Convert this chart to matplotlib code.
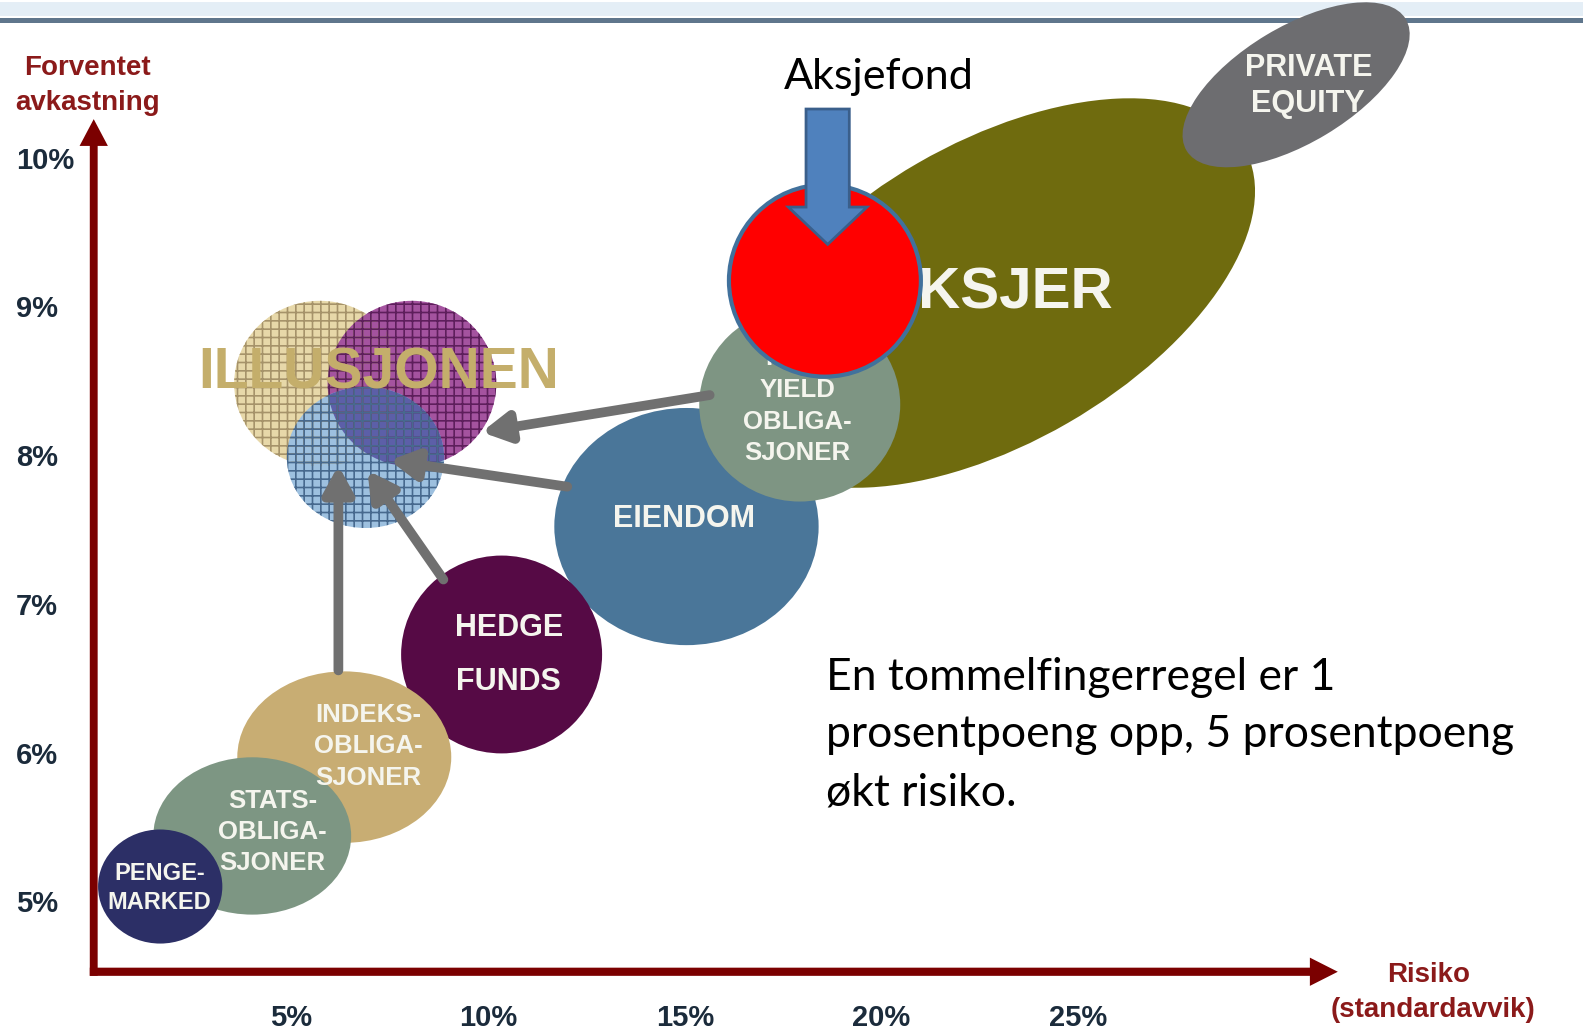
import matplotlib
matplotlib.use('Agg')
import matplotlib.pyplot as plt
import matplotlib.transforms as mtransforms
from matplotlib.patches import Ellipse, FancyArrow
from matplotlib.lines import Line2D

# asset classes: risk (standard deviation, %) and expected return (%)
assets = ['Aksjer', 'Private equity', 'Eiendom', 'High yield', 'Hedge funds',
          'Indeksobligasjoner', 'Statsobligasjoner', 'Pengemarked']
risk = [22.83, 30.54, 15.04, 17.92, 10.34, 6.34, 4.00, 1.66]
ret = [9.09, 10.49, 7.52, 8.34, 6.66, 5.97, 5.44, 5.10]
spread_w = [14.75, 6.5, 6.72, 5.11, 5.11, 5.44, 5.03, 3.16]
spread_h = [7.63, 2.95, 6.03, 4.93, 5.03, 4.36, 4.00, 2.90]
tilt = [30, 31, 0, 0, 0, 0, 0, 0]

label_lines = [['AKSJER'], ['PRIVATE', 'EQUITY'], ['EIENDOM'],
               ['HIGH', 'YIELD', 'OBLIGA-', 'SJONER'], ['HEDGE', 'FUNDS'],
               ['INDEKS-', 'OBLIGA-', 'SJONER'], ['STATS-', 'OBLIGA-', 'SJONER'],
               ['PENGE-', 'MARKED']]
label_x = [22.87, 30.85, 14.99, 17.86, 10.52, 6.96, 4.52, 1.64]
label_y = [9.105, 10.625, 7.592, 8.671, 6.859, 6.275, 5.698, 5.210]
label_step = [0, 0.244, 0, 0.213, 0.367, 0.213, 0.21, 0.197]

# the "illusion" circles
illu_x = [5.72, 8.06, 6.88]
illu_y = [8.481, 8.481, 7.985]
illu_w = [4.36, 4.29, 4.00]
illu_h = [4.21, 4.21, 3.59]

# arrows from asset classes into the illusion
arrow_from = [(15.63, 8.404), (12.01, 7.788), (8.86, 7.164), (6.19, 6.553)]
arrow_to = [(9.83, 8.155), (7.49, 7.965), (6.93, 7.897), (6.19, 7.931)]

# the equity fund
fund_risk, fund_ret, fund_d = 18.56, 9.173, 4.88

yticks = [10, 9, 8, 7, 6, 5]
xticks = [5, 10, 15, 20, 25]

note = ['En tommelfingerregel er 1',
        'prosentpoeng opp, 5 prosentpoeng',
        'økt risiko.']

colors = ['#6f6b0e', '#6d6d70', '#4a7699', '#7e9583', '#560a45',
          '#c8ad73', '#7d9683', '#2c2f66']
label_size = [42, 22, 22, 18.5, 22, 18.5, 18.5, 17]
illu_colors = ['#e7d8a9', '#a4539f', '#9dc0df']
illu_grid = ['#a6936a', '#5e1f5c', '#47698e']
DARKRED = '#7b0000'
DY = -0.02  # nudge text down to sit like the original


def bubble(ax, x, y, w, h, angle=0, **kw):
    # w, h in risk-% units, so the y scale does not squash the shape
    p0, p1 = ax.transData.transform([(0, 0), (1, 0)])
    unit = p1[0] - p0[0]
    cx, cy = ax.transData.transform((x, y))
    tr = mtransforms.Affine2D().scale(unit).translate(cx, cy)
    e = Ellipse((0, 0), w, h, angle=angle, transform=tr, **kw)
    ax.add_patch(e)
    return e


fig = plt.figure(figsize=(15.83, 10.32), dpi=100)
ax = fig.add_axes([0, 0, 1, 1])
ax.set_xlim(-2.413, 37.834)
ax.set_ylim(4.122, 11.060)
ax.axis('off')

# header rule
fig.add_artist(Line2D([0, 1], [0.9915, 0.9915], transform=fig.transFigure,
                      color='#e4eef6', lw=10, zorder=-2))
fig.add_artist(Line2D([0, 1], [0.9805, 0.9805], transform=fig.transFigure,
                      color='#5f768c', lw=3.6, zorder=-1))

for i in range(len(assets)):
    bubble(ax, risk[i], ret[i], spread_w[i], spread_h[i], tilt[i],
           facecolor=colors[i], lw=0, zorder=2 + i)

for i in range(len(assets)):
    for j, line in enumerate(label_lines[i]):
        ax.text(label_x[i], label_y[i] - j * label_step[i] + DY, line,
                ha='center', va='center', color='#f5f5ee', weight='bold',
                family='Liberation Sans', fontsize=label_size[i], zorder=12)

# illusion circles, blue on top, with the purple/blue overlap darkened
ill = []
for i in range(3):
    ill.append(bubble(ax, illu_x[i], illu_y[i], illu_w[i], illu_h[i],
                      facecolor=illu_colors[i], lw=0, zorder=13 + i * 0.1))
ov = bubble(ax, illu_x[1], illu_y[1], illu_w[1], illu_h[1],
            facecolor='#5c5fa8', lw=0, zorder=13.3)
ov.set_clip_path(ill[2])
plt.rcParams['hatch.linewidth'] = 1.2
for i in range(3):
    bubble(ax, illu_x[i], illu_y[i], illu_w[i], illu_h[i], hatch='++',
           facecolor='none', edgecolor=illu_grid[i], lw=0, zorder=13.4 + i * 0.1)

ax.text(7.21, 8.569 + DY, 'ILLUSJONEN', ha='center', va='center', color='#c4ae6b',
        weight='bold', family='Liberation Sans', fontsize=41, zorder=14)

for (x0, y0), (x1, y1) in zip(arrow_from, arrow_to):
    ax.annotate('', xy=(x1, y1), xytext=(x0, y0), zorder=15,
                arrowprops=dict(arrowstyle='-|>,head_length=1.0,head_width=0.55',
                                mutation_scale=16, lw=7, color='#707070',
                                shrinkA=0, shrinkB=0))

# the fund and its pointer
bubble(ax, fund_risk, fund_ret, fund_d, fund_d, facecolor='#ff0000',
       edgecolor='#41719c', lw=3, zorder=16)
ax.add_patch(FancyArrow(18.63, 10.327, 0, 9.417 - 10.327, width=1.10,
                        head_width=2.0, head_length=0.251,
                        length_includes_head=True, facecolor='#4f81bd',
                        edgecolor='#3a5f8b', lw=2, zorder=17))
ax.text(19.92, 10.564 + DY, 'Aksjefond', ha='center', va='center', family='Lato',
        fontsize=31, color='black', zorder=18)

# axes arrows
ax.add_patch(FancyArrow(-0.03, 4.50, 0, 10.259 - 4.50, width=0.2,
                        head_width=0.72, head_length=0.18,
                        length_includes_head=True, color=DARKRED, lw=0, zorder=1))
ax.add_patch(FancyArrow(-0.13, 4.527, 31.6 + 0.13, 0, width=0.055,
                        head_width=0.19, head_length=0.71,
                        length_includes_head=True, color=DARKRED, lw=0, zorder=1))

for t in yticks:
    ax.text(-2.0, t + DY, f'{t}%', ha='left', va='center', color='#1b2b3b',
            weight='bold', family='Liberation Sans', fontsize=21)
for t in xticks:
    ax.text(t, 4.239 + DY, f'{t}%', ha='center', va='center', color='#1b2b3b',
            weight='bold', family='Liberation Sans', fontsize=21)

title_kw = dict(ha='center', va='center', color='#8b1a1a', weight='bold',
                family='Liberation Sans', fontsize=20)
ax.text(-0.18, 10.625 + DY, 'Forventet', **title_kw)
ax.text(-0.18, 10.388 + DY, 'avkastning', **title_kw)
ax.text(33.91, 4.524 + DY, 'Risiko', **title_kw)
ax.text(34.03, 4.293 + DY, '(standardavvik)', **title_kw)

for k, line in enumerate(note):
    ax.text(18.58, 6.526 - k * 0.387 + DY, line, ha='left', va='center',
            family='Lato', fontsize=32, color='black', zorder=18)

fig.savefig('out.png', dpi=100)
